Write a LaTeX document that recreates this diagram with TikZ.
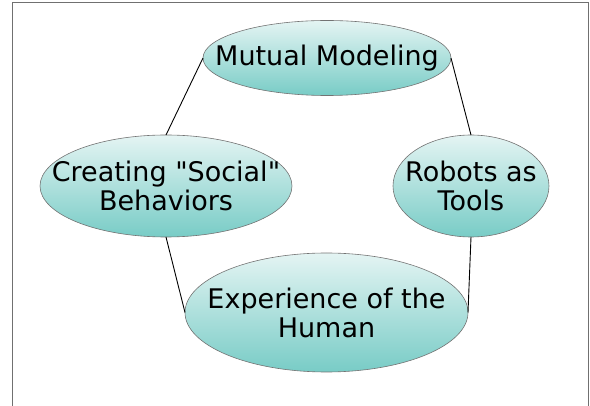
\documentclass[tikz,border=0pt]{standalone}
\usepackage{fontspec}
\setmainfont{DejaVu Sans}[Ligatures=TeXOff]
\usetikzlibrary{shapes.geometric}
\definecolor{tealtop}{HTML}{E4F4F3}
\definecolor{tealbot}{HTML}{78CCC6}
\definecolor{framegray}{HTML}{707070}
\begin{document}
\begin{tikzpicture}[x=1pt,y=-1pt,
  bubble/.style={ellipse, draw=black!55, line width=0.6pt, top color=tealtop, bottom color=tealbot,
    inner sep=0pt, outer sep=0pt},
  label/.style={align=center, inner sep=0pt, font=\fontsize{27}{29}\selectfont},
  link/.style={draw=black, line width=0.9pt}]
\useasboundingbox (0,0) rectangle (590,406);
\draw[framegray, line width=1pt] (12,406) -- (12,3) -- (588,3) -- (588,406);
\node[bubble, minimum width=248pt, minimum height=75pt] (mm) at (327,58) {};
\node[bubble, minimum width=252pt, minimum height=102pt] (cs) at (166,186) {};
\node[bubble, minimum width=156pt, minimum height=102pt] (rt) at (471,186) {};
\node[bubble, minimum width=283pt, minimum height=119pt] (eh) at (326.5,312.5) {};
\node[label] (mmt) at (mm) {Mutual Modeling};
\node[label] (cst) at (cs) {Creating "Social"\\Behaviors};
\node[label] (rtt) at (rt) {Robots as\\Tools};
\node[label] (eht) at (eh) {Experience of the\\Human};
\draw[link] (mm.west) -- (cs.north);
\draw[link] (mm.east) -- (rt.north);
\draw[link] (cs.south) -- (eh.west);
\draw[link] (rt.south) -- (eh.east);
\end{tikzpicture}
\end{document}
